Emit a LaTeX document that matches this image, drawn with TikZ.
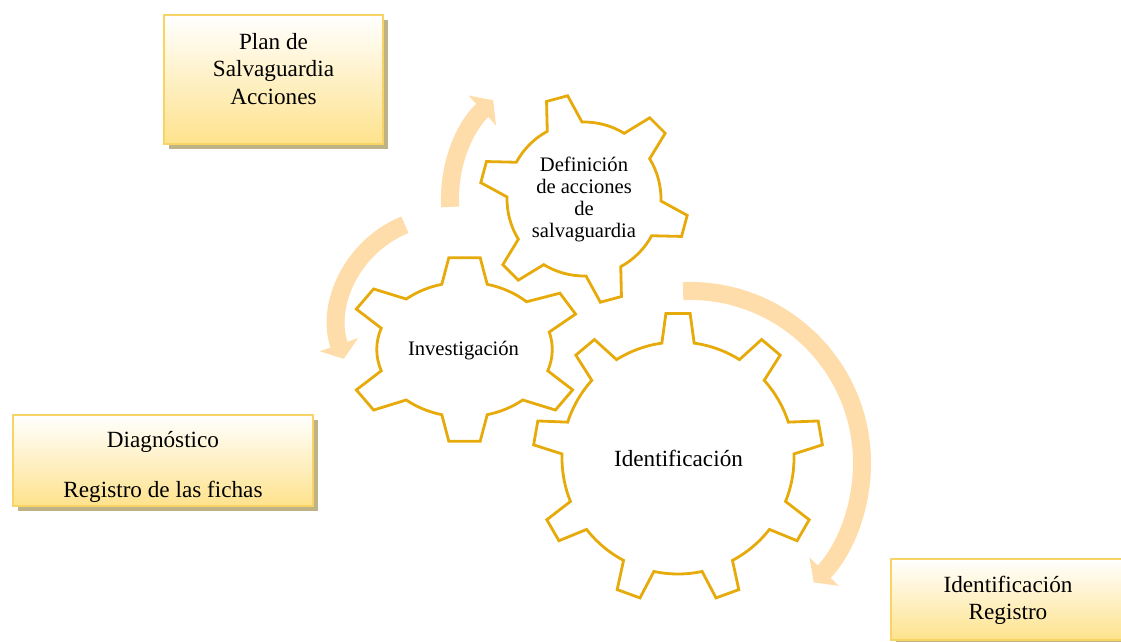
\documentclass[tikz,border=0pt]{standalone}
\usepackage{fontspec}
\setmainfont{Liberation Serif}
\usetikzlibrary{arrows.meta}
\definecolor{gearGold}{RGB}{230,170,10}
\definecolor{arrowPeach}{RGB}{255,221,170}
\definecolor{boxYellow}{RGB}{254,226,140}
\definecolor{boxEdge}{RGB}{248,212,100}
\definecolor{boxShadow}{RGB}{190,178,135}
\begin{document}
\begin{tikzpicture}[x=1pt,y=1pt,
  gear/.style={draw=gearGold,line width=2.8pt,fill=white},
  flow/.style={draw=arrowPeach,line width=18pt,-{Triangle[width=40pt,length=15pt]}},
  noteshadow/.style={fill=boxShadow},
  notebox/.style={draw=boxEdge,line width=1.6pt,top color=white,bottom color=boxYellow},
  boxtext/.style={align=center,font=\fontsize{23.2}{27.5}\selectfont},
  geartext/.style={align=center,font=\fontsize{20.6}{22.3}\selectfont}]
\fill[white] (0,0) rectangle (1121,642);
\useasboundingbox (0,0) rectangle (1121,642);
% Drawing boxes
% Box 1: plan
\fill[noteshadow] (169,493) rectangle (388,622);
\shade[notebox] (164,498) rectangle (383,627);
% Box 2: diagnostico
\fill[noteshadow] (18,131) rectangle (318,222);
\shade[notebox] (13,136) rectangle (313,227);
% Box 3: registro
\fill[noteshadow] (896,-3) rectangle (1130,78);
\shade[notebox] (891,2) rectangle (1125,83);
% Done with boxes; drawing arrows
\draw[flow] (450.2,435.1) arc[start angle=183.4,end angle=132.6,radius=134];
\draw[flow] (404.9,417.2) arc[start angle=112,end angle=199,radius=107];
\draw[flow] (683.1,350.9) arc[start angle=92.3,end angle=-44,radius=172];
% Done with arrows; drawing gears
% Gear 1: identificacion, 9 teeth
\begin{scope}[shift={(678,184)}]
\draw[gear] (82:116) \foreach \a in {90,130,...,410} {
  -- (\a-4.8:145) -- (\a+4.8:145) -- (\a+8:116)
  arc[start angle=\a+8,end angle=\a+32,radius=116]} -- cycle;
\end{scope}
% Gear 2: investigacion, 6 teeth (tooth / next tooth)
\begin{scope}[shift={(464.5,292.5)},xscale=1.3]
\draw[gear] (75:67.5) \foreach \a/\b in {90/146.6,146.6/213.4,213.4/270,270/326.6,326.6/390,390/450} {
  -- (\a-7.5:92.5) -- (\a+7.5:92.5) -- (\a+15:67.5)
  arc[start angle=\a+15,end angle=\b-15,radius=67.5]} -- cycle;
\end{scope}
% Gear 3: definicion, 6 teeth
\begin{scope}[shift={(584,443)}]
\draw[gear] (91.5:77) \foreach \a in {105,165,...,405} {
  -- (\a-6:104.5) -- (\a+6:104.5) -- (\a+13.5:77)
  arc[start angle=\a+13.5,end angle=\a+46.5,radius=77]} -- cycle;
\end{scope}
% Done with gears; drawing labels
\node[boxtext] (plan) at (273.5,573) {Plan de\\Salvaguardia\\Acciones};
\node[boxtext] (diag) at (163,175) {Diagnóstico\\[23pt]Registro de las fichas};
\node[boxtext] (idreg) at (1008,41.5) {Identificación\\Registro};
\node[boxtext] (ident) at (678.5,184) {Identificación};
\node[geartext] (invest) at (463.5,291) {Investigación};
\node[geartext] (defin) at (584,442.5) {Definición\\de acciones\\de\\salvaguardia};
% Done with labels
\end{tikzpicture}
\end{document}
